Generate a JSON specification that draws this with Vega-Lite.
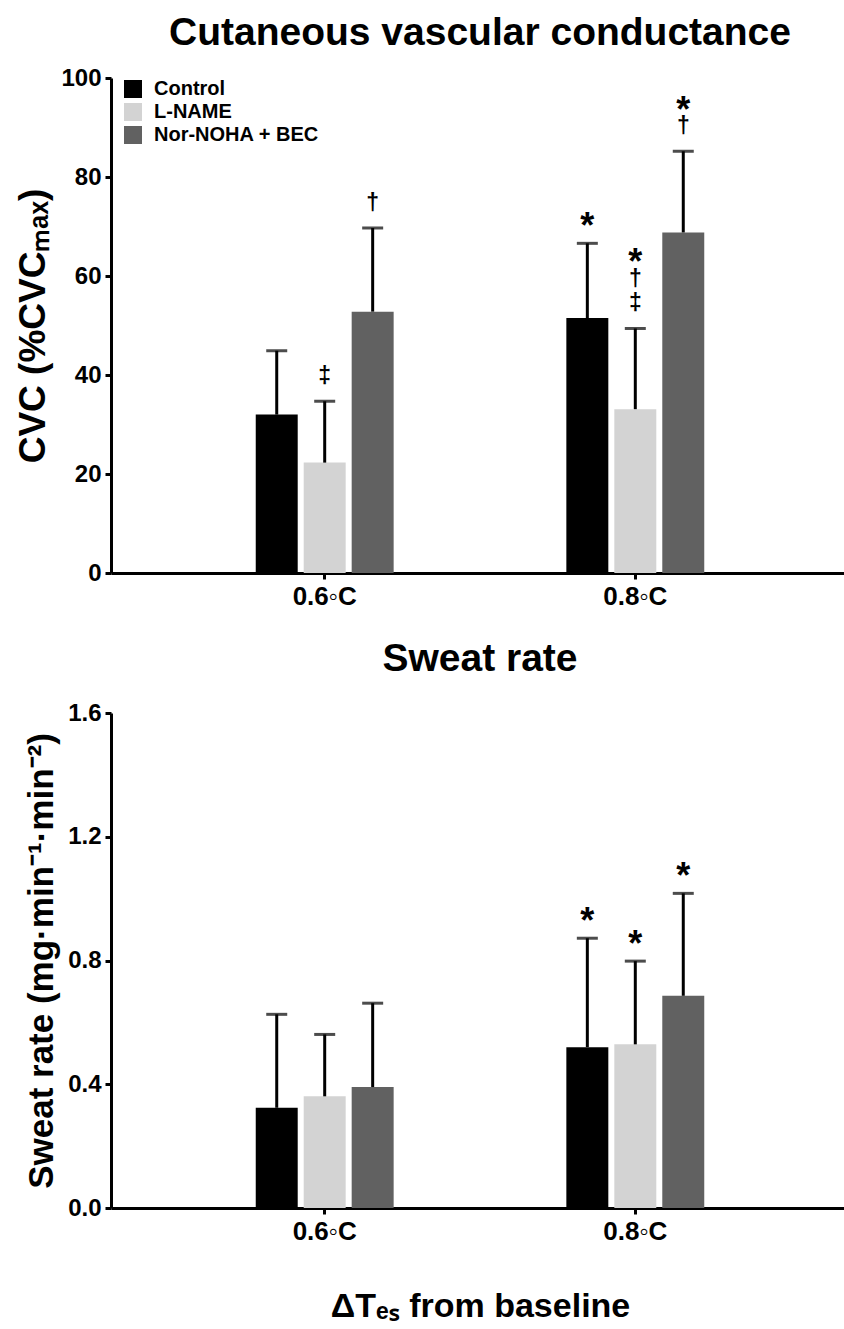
{
  "$schema": "https://vega.github.io/schema/vega-lite/v6.json",
  "padding": {"left": 14, "top": 14, "right": 0, "bottom": 6},
  "config": {
    "view": {"stroke": null},
    "font": "Liberation Sans",
    "axis": {
      "domainColor": "black", "domainWidth": 3, "tickColor": "black", "tickWidth": 3, "tickSize": 6,
      "labelFont": "Liberation Sans", "labelFontSize": 24, "labelFontWeight": "bold", "labelColor": "black", "labelPadding": 4,
      "titleFont": "Liberation Sans", "titleFontSize": 35, "titleFontWeight": "bold", "titleColor": "black", "titlePadding": 8,
      "grid": false
    },
    "axisX": {"labelFontSize": 26},
    "title": {"font": "Liberation Sans", "fontSize": 39, "fontWeight": "bold", "color": "black", "anchor": "middle"},
    "text": {"font": "Liberation Sans", "fontWeight": "bold", "color": "black", "baseline": "alphabetic"},
    "legend": {
      "labelFont": "Liberation Sans", "labelFontSize": 20, "labelFontWeight": "bold", "labelColor": "black", "labelLimit": 0,
      "symbolType": "square", "symbolSize": 324, "symbolStrokeWidth": 0, "symbolOpacity": 1,
      "rowPadding": 3, "labelOffset": 11, "padding": 0
    }
  },
  "resolve": {"legend": {"color": "independent"}},
  "spacing": 31,
  "vconcat": [
    {
      "title": {"text": "Cutaneous vascular conductance", "offset": 13},
      "width": 738,
      "height": 495,
      "data": {"values": [
        {"dT": "0.6◦C", "cond": "Control", "mean": 32.0, "upper": 44.9, "s1": "", "s2": "", "s3": ""},
        {"dT": "0.6◦C", "cond": "L-NAME", "mean": 22.3, "upper": 34.7, "s1": "‡", "s2": "", "s3": ""},
        {"dT": "0.6◦C", "cond": "Nor-NOHA + BEC", "mean": 52.8, "upper": 69.7, "s1": "†", "s2": "", "s3": ""},
        {"dT": "0.8◦C", "cond": "Control", "mean": 51.5, "upper": 66.6, "s1": "*", "s2": "", "s3": ""},
        {"dT": "0.8◦C", "cond": "L-NAME", "mean": 33.1, "upper": 49.4, "s1": "‡", "s2": "†", "s3": "*"},
        {"dT": "0.8◦C", "cond": "Nor-NOHA + BEC", "mean": 68.8, "upper": 85.2, "s1": "†", "s2": "*", "s3": ""}
      ]},
      "encoding": {
        "x": {"field": "dT", "type": "nominal", "sort": null, "scale": {"paddingInner": 0.556, "paddingOuter": 0.466}, "axis": {"title": null, "labelAngle": 0}},
        "xOffset": {"field": "cond", "type": "nominal", "scale": {"domain": ["Control", "L-NAME", "Nor-NOHA + BEC"], "paddingInner": 0.125, "paddingOuter": 0}},
        "y": {"field": "upper", "type": "quantitative"}
      },
      "layer": [
        {
          "mark": {"type": "bar"},
          "encoding": {
            "y": {"field": "mean", "type": "quantitative", "scale": {"domain": [0, 100], "nice": false}, "axis": {"values": [0, 20, 40, 60, 80, 100], "title": "CVC (%CVCₘₐₓ)", "titleFontSize": 37}},
            "color": {"field": "cond", "type": "nominal", "scale": {"domain": ["Control", "L-NAME", "Nor-NOHA + BEC"], "range": ["#000000", "#d3d3d3", "#616161"]}, "legend": {"title": null, "orient": "none", "legendX": 12, "legendY": 1}}
          }
        },
        {
          "mark": {"type": "rule", "strokeWidth": 3, "color": "black"},
          "encoding": {"y": {"field": "mean", "type": "quantitative"}, "y2": {"field": "upper"}}
        },
        {
          "mark": {"type": "tick", "thickness": 3, "size": 21, "color": "black"}
        },
        {
          "transform": [{"filter": "datum.s1 === '*'"}],
          "mark": {"type": "text", "fontSize": 36, "dy": -5},
          "encoding": {"text": {"field": "s1", "type": "nominal"}}
        },
        {
          "transform": [{"filter": "datum.s1 !== '*' && datum.s1 !== ''"}],
          "mark": {"type": "text", "fontSize": 23, "dy": -18},
          "encoding": {"text": {"field": "s1", "type": "nominal"}}
        },
        {
          "transform": [{"filter": "datum.s2 === '*'"}],
          "mark": {"type": "text", "fontSize": 36, "dy": -29.5},
          "encoding": {"text": {"field": "s2", "type": "nominal"}}
        },
        {
          "transform": [{"filter": "datum.s2 !== '*' && datum.s2 !== ''"}],
          "mark": {"type": "text", "fontSize": 23, "dy": -42.5},
          "encoding": {"text": {"field": "s2", "type": "nominal"}}
        },
        {
          "transform": [{"filter": "datum.s3 === '*'"}],
          "mark": {"type": "text", "fontSize": 36, "dy": -54},
          "encoding": {"text": {"field": "s3", "type": "nominal"}}
        }
      ]
    },
    {
      "title": {"text": "Sweat rate", "offset": 22},
      "width": 738,
      "height": 495,
      "data": {"values": [
        {"dT": "0.6◦C", "cond": "Control", "mean": 0.324, "upper": 0.626, "s1": ""},
        {"dT": "0.6◦C", "cond": "L-NAME", "mean": 0.361, "upper": 0.561, "s1": ""},
        {"dT": "0.6◦C", "cond": "Nor-NOHA + BEC", "mean": 0.391, "upper": 0.662, "s1": ""},
        {"dT": "0.8◦C", "cond": "Control", "mean": 0.520, "upper": 0.872, "s1": "*"},
        {"dT": "0.8◦C", "cond": "L-NAME", "mean": 0.529, "upper": 0.798, "s1": "*"},
        {"dT": "0.8◦C", "cond": "Nor-NOHA + BEC", "mean": 0.686, "upper": 1.017, "s1": "*"}
      ]},
      "encoding": {
        "x": {"field": "dT", "type": "nominal", "sort": null, "scale": {"paddingInner": 0.556, "paddingOuter": 0.466}, "axis": {"title": "ΔTₑₛ from baseline", "labelAngle": 0, "titlePadding": 45, "titleFontSize": 34}},
        "xOffset": {"field": "cond", "type": "nominal", "scale": {"domain": ["Control", "L-NAME", "Nor-NOHA + BEC"], "paddingInner": 0.125, "paddingOuter": 0}},
        "y": {"field": "upper", "type": "quantitative"}
      },
      "layer": [
        {
          "mark": {"type": "bar"},
          "encoding": {
            "y": {"field": "mean", "type": "quantitative", "scale": {"domain": [0, 1.6], "nice": false}, "axis": {"values": [0, 0.4, 0.8, 1.2, 1.6], "format": ".1f", "title": "Sweat rate (mg·min⁻¹·min⁻²)"}},
            "color": {"field": "cond", "type": "nominal", "scale": {"domain": ["Control", "L-NAME", "Nor-NOHA + BEC"], "range": ["#000000", "#d3d3d3", "#616161"]}, "legend": null}
          }
        },
        {
          "mark": {"type": "rule", "strokeWidth": 3, "color": "black"},
          "encoding": {"y": {"field": "mean", "type": "quantitative"}, "y2": {"field": "upper"}}
        },
        {
          "mark": {"type": "tick", "thickness": 3, "size": 21, "color": "black"}
        },
        {
          "transform": [{"filter": "datum.s1 === '*'"}],
          "mark": {"type": "text", "fontSize": 36, "dy": -5},
          "encoding": {"text": {"field": "s1", "type": "nominal"}}
        }
      ]
    }
  ]
}
